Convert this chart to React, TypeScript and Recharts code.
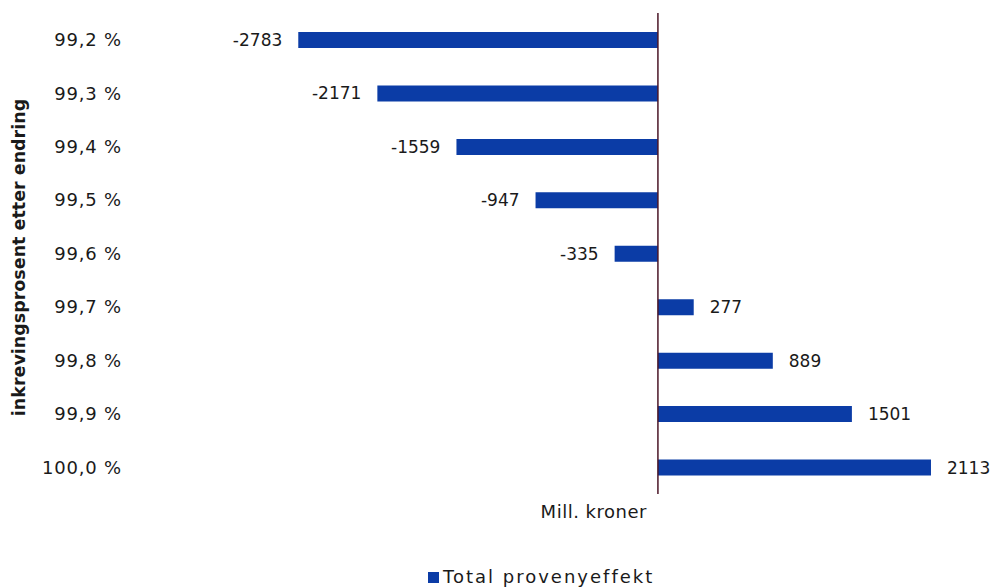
import React from 'react';
import { BarChart, Bar, XAxis, YAxis, ReferenceLine, LabelList, Legend } from 'recharts';

const categories = ['99,2 %', '99,3 %', '99,4 %', '99,5 %', '99,6 %', '99,7 %', '99,8 %', '99,9 %', '100,0 %'];
const values = [-2783, -2171, -1559, -947, -335, 277, 889, 1501, 2113];
const seriesName = 'Total provenyeffekt';
const yTitle = 'inkrevingsprosent etter endring';
const xTitle = 'Mill. kroner';

const data = categories.map((c, i) => ({ label: c, value: values[i] }));

const FONT = '"DejaVu Sans", sans-serif';
const BLUE = '#0b3ca6';
const TEXT = '#1a1a1a';

const YTitle = (props: any) => {
  const vb = props.viewBox || {};
  const cx = 19;
  const cy = vb.y + vb.height / 2 + 4;
  return (
    <text x={cx} y={cy} transform={`rotate(-90 ${cx} ${cy})`} textAnchor="middle" dominantBaseline="central"
      fontFamily={FONT} fontWeight={700} fontSize={17.5} fill={TEXT}>{yTitle}</text>
  );
};

const ZeroLabel = (props: any) => {
  const vb = props.viewBox || {};
  return (
    <text x={vb.x - 11} y={vb.y + vb.height + 17} textAnchor="end" dominantBaseline="central"
      fontFamily={FONT} fontSize={18} letterSpacing={0.5} fill={TEXT}>{xTitle}</text>
  );
};

const LegendContent = () => (
  <div style={{ display: 'flex', alignItems: 'center', paddingLeft: 428, paddingTop: 73, fontFamily: FONT, fontSize: 18, letterSpacing: 2, color: TEXT, lineHeight: '20px' }}>
    <span style={{ display: 'inline-block', width: 11, height: 11, background: BLUE, marginRight: 4 }} />
    <span>{seriesName}</span>
  </div>
);

export default function App() {
  return (
    <div style={{ position: 'absolute', left: 0, top: 0, width: 999, height: 587, background: '#fff' }}>
      <BarChart width={999} height={587} data={data} layout="vertical"
        margin={{ top: 13, right: 18, bottom: 0, left: 0 }}>
        <XAxis type="number" domain={[-4000, 2500]} tickCount={14} hide />
        <YAxis type="category" dataKey="label" width={141} axisLine={false} tickLine={false}
          tickSize={0} tickMargin={19}
          tick={{ fontFamily: FONT, fontSize: 18, fill: TEXT, letterSpacing: 0.8 }}
          label={<YTitle />} />
        <Legend verticalAlign="bottom" height={93} content={<LegendContent />} wrapperStyle={{ left: 0, width: 999 }} />
        <Bar dataKey="value" name={seriesName} fill={BLUE} barSize={16} isAnimationActive={false}>
          <LabelList dataKey="value" position="right" offset={16}
            style={{ fontFamily: FONT, fontSize: 17, fill: TEXT }} />
        </Bar>
        <ReferenceLine x={0} stroke="#4a1526" strokeWidth={1.5} label={<ZeroLabel />} />
      </BarChart>
    </div>
  );
}
